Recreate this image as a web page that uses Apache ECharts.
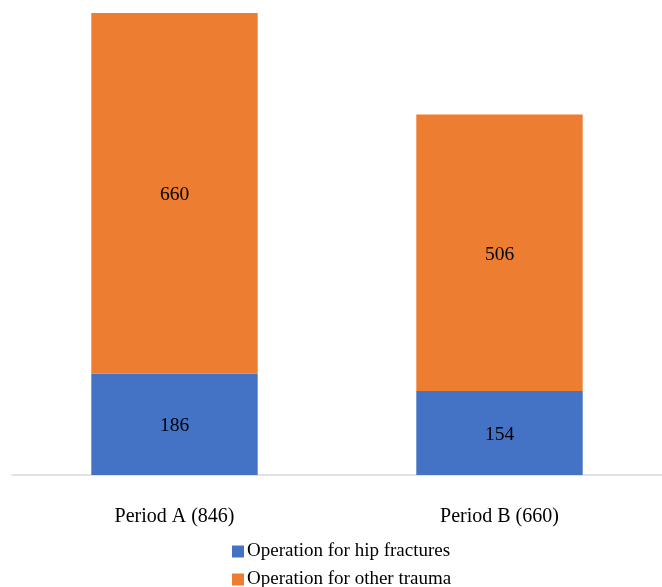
<!DOCTYPE html>
<html><head><meta charset="utf-8">
<script src="https://cdn.jsdelivr.net/npm/echarts@6/dist/echarts.min.js"></script>
<style>html,body{margin:0;padding:0;background:#fff}#c{width:662px;height:587px}</style>
</head><body><div id="c"></div>
<script>
const categories = ['Period A (846)', 'Period B (660)'];
const hipFractures = [186, 154];
const otherTrauma = [660, 506];
const seriesNames = ['Operation for hip fractures', 'Operation for other trauma'];

const font = '"Liberation Serif", "Times New Roman", serif';
const chart = echarts.init(document.getElementById('c'));
chart.setOption({
  animation: false,
  grid: { left: 12, width: 652, top: 13, bottom: 112, containLabel: false },
  xAxis: {
    type: 'category', data: categories,
    axisLine: { lineStyle: { color: '#d9d9d9', width: 1.5 } },
    axisTick: { show: false },
    axisLabel: { color: '#000', fontFamily: font, fontSize: 20, margin: 32 }
  },
  yAxis: { type: 'value', min: 0, max: 846, show: false, splitLine: { show: false } },
  legend: {
    orient: 'vertical', left: 232, top: 542, height: 70, itemGap: 9,
    itemWidth: 12, itemHeight: 12, icon: 'rect', padding: 0,
    textStyle: { color: '#000', fontFamily: font, fontSize: 19, padding: [0, 0, 0, -2] },
    data: seriesNames
  },
  series: [
    { name: seriesNames[0], type: 'bar', stack: 's', data: hipFractures, barWidth: '51.2%',
      itemStyle: { color: '#4472C4' },
      label: { show: true, position: 'inside', offset: [0, 2], color: '#000', fontFamily: font, fontSize: 19.5 } },
    { name: seriesNames[1], type: 'bar', stack: 's', data: otherTrauma, barWidth: '51.2%',
      itemStyle: { color: '#ED7D31' },
      label: { show: true, position: 'inside', offset: [0, 2], color: '#000', fontFamily: font, fontSize: 19.5 } }
  ]
});
</script></body></html>
